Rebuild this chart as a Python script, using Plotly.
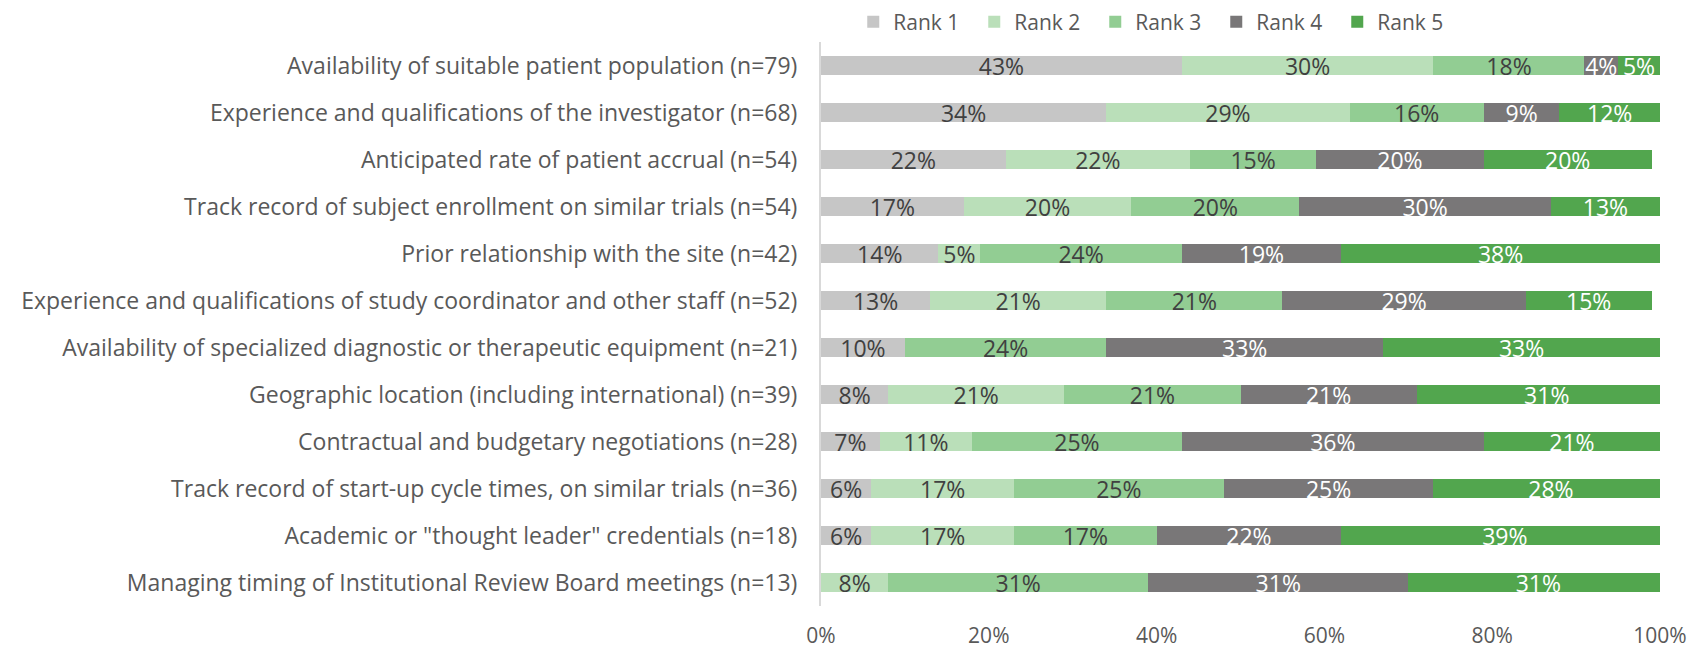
import plotly.graph_objects as go

categories = [
    "Availability of suitable patient population (n=79)",
    "Experience and qualifications of the investigator (n=68)",
    "Anticipated rate of patient accrual (n=54)",
    "Track record of subject enrollment on similar trials (n=54)",
    "Prior relationship with the site (n=42)",
    "Experience and qualifications of study coordinator and other staff (n=52)",
    "Availability of specialized diagnostic or therapeutic equipment (n=21)",
    "Geographic location (including international) (n=39)",
    "Contractual and budgetary negotiations (n=28)",
    "Track record of start-up cycle times, on similar trials (n=36)",
    "Academic or \"thought leader\" credentials (n=18)",
    "Managing timing of Institutional Review Board meetings (n=13)",
]

rank1 = [43, 34, 22, 17, 14, 13, 10, 8, 7, 6, 6, 0]
rank2 = [30, 29, 22, 20, 5, 21, 0, 21, 11, 17, 17, 8]
rank3 = [18, 16, 15, 20, 24, 21, 24, 21, 25, 25, 17, 31]
rank4 = [4, 9, 20, 30, 19, 29, 33, 21, 36, 25, 22, 31]
rank5 = [5, 12, 20, 13, 38, 15, 33, 31, 21, 28, 39, 31]

series_names = ["Rank 1", "Rank 2", "Rank 3", "Rank 4", "Rank 5"]
tick_vals = [0, 20, 40, 60, 80, 100]
tick_text = ["0%", "20%", "40%", "60%", "80%", "100%"]

colors = ["#c6c6c6", "#badfb9", "#92cd93", "#797778", "#52a64e"]
text_colors = ["#404040", "#404040", "#404040", "#ffffff", "#ffffff"]

FONT = "Open Sans"
# the page body has an 8px margin, so the figure is drawn 8px smaller
W, H = 1692, 646
M_L, M_R, M_T, M_B = 813, 40, 0, 48
PLOT_TOP_PX = 34
plot_h = H - M_T - M_B

fig = go.Figure()
for name, vals, col, tcol in zip(series_names, [rank1, rank2, rank3, rank4, rank5], colors, text_colors):
    fig.add_trace(go.Bar(
        name=name,
        y=categories,
        x=vals,
        orientation="h",
        marker=dict(color=col, line=dict(width=0)),
        text=[f"{v}%" if v > 0 else "" for v in vals],
        textposition="inside",
        insidetextanchor="middle",
        textangle=0,
        constraintext="none",
        textfont=dict(family=FONT, size=23, color=tcol),
        hoverinfo="skip",
    ))

fig.update_layout(
    barmode="stack",
    bargap=0.6,
    width=W,
    height=H,
    plot_bgcolor="white",
    paper_bgcolor="white",
    margin=dict(l=M_L, r=M_R, t=M_T, b=M_B, pad=0, autoexpand=False),
    font=dict(family=FONT, size=21, color="#595959"),
    legend=dict(
        orientation="h",
        x=0.399, xanchor="center",
        y=(plot_h - 14) / plot_h, yanchor="middle",
        font=dict(family=FONT, size=21, color="#595959"),
        traceorder="normal",
        entrywidth=76,
        entrywidthmode="pixels",
        bgcolor="rgba(0,0,0,0)",
    ),
)
fig.update_xaxes(
    range=[0, 100],
    tickvals=tick_vals,
    ticktext=tick_text,
    showgrid=False,
    zeroline=False,
    showline=False,
    ticks="",
    ticklabelstandoff=15,
    automargin=False,
    tickfont=dict(family=FONT, size=21, color="#595959"),
    fixedrange=True,
)
fig.update_yaxes(
    autorange="reversed",
    domain=[0, (plot_h - PLOT_TOP_PX) / plot_h],
    showline=True,
    linecolor="#d9d9d9",
    linewidth=2,
    showgrid=False,
    ticks="",
    ticklabelstandoff=17,
    automargin=False,
    tickfont=dict(family=FONT, size=23, color="#595959"),
    fixedrange=True,
)

fig.write_html("out.html")
